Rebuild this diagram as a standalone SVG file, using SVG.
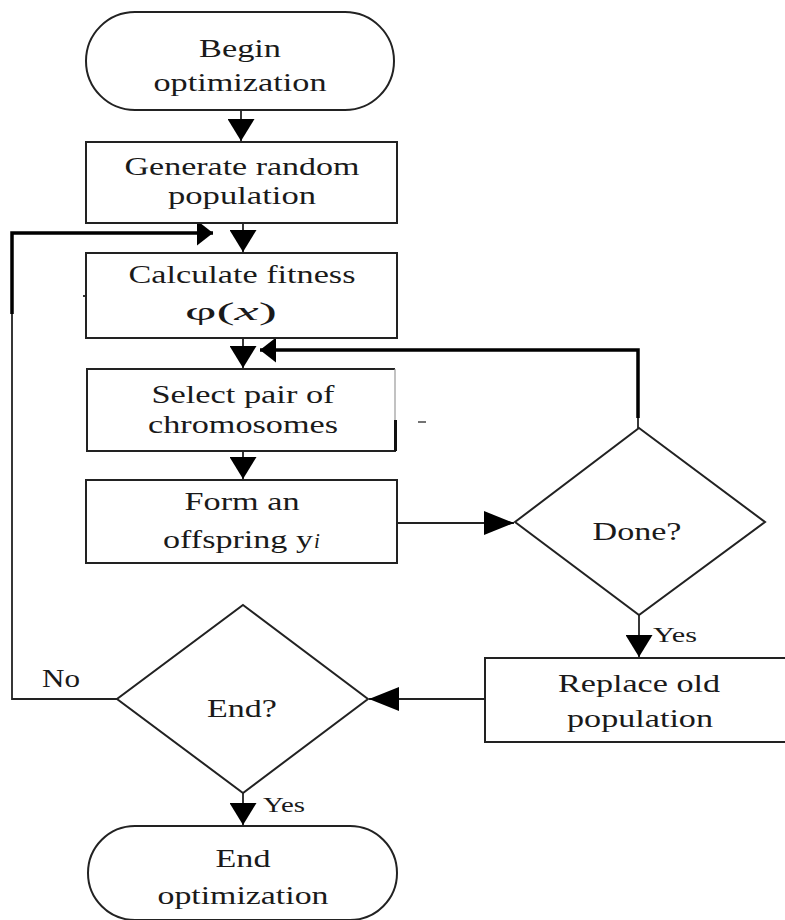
<svg xmlns="http://www.w3.org/2000/svg" width="785" height="920" viewBox="0 0 785 920">
<style>
.box{fill:#fff;stroke:#222;stroke-width:2}
.t{font-size:25px;fill:#1a1a1a;text-anchor:middle}
.s{font-size:21px;fill:#1a1a1a}
.thin{fill:none;stroke:#222;stroke-width:1.8}
.thick{fill:none;stroke:#000;stroke-width:3.5}
</style>
<defs>
<marker id="av" markerUnits="userSpaceOnUse" markerWidth="22" markerHeight="27" refX="22" refY="13.5" orient="auto"><path d="M0,0 L22,13.5 L0,27 z" fill="#000"/></marker>
<marker id="ah" markerUnits="userSpaceOnUse" markerWidth="30" markerHeight="24" refX="30" refY="12" orient="auto"><path d="M0,0 L30,12 L0,24 z" fill="#000"/></marker>
<marker id="ak" markerUnits="userSpaceOnUse" markerWidth="16" markerHeight="25" refX="16" refY="12.5" orient="auto"><path d="M0,0 L16,12.5 L0,25 z" fill="#000"/></marker>
</defs>
<rect width="785" height="920" fill="#fff"/>
<g font-family="'Liberation Serif', 'DejaVu Serif', serif">
<g id="connectors">
<path class="thin" d="M241,110 V141" marker-end="url(#av)"/>
<path class="thin" d="M243,223 V252" marker-end="url(#av)"/>
<path class="thin" d="M243,338 V368" marker-end="url(#av)"/>
<path class="thin" d="M243,451 V479" marker-end="url(#av)"/>
<path class="thin" d="M397,523 H514" marker-end="url(#ah)"/>
<path class="thin" d="M639,615 V657" marker-end="url(#av)"/>
<path class="thin" d="M485,699 H369" marker-end="url(#ah)"/>
<path class="thin" d="M243,793 V825" marker-end="url(#av)"/>
<path class="thin" d="M117,699 H12 V313"/>
<path class="thick" d="M12,314 V233 H213" marker-end="url(#ak)"/>
<path class="thin" d="M638,428 V416"/>
<path class="thick" d="M638,418 V350 H260" marker-end="url(#ak)"/>
<path class="thin" d="M83,296 H89"/>
<path d="M418,422 H426" stroke="#444" stroke-width="1.5"/>
<text class="s" x="653" y="642" textLength="44" lengthAdjust="spacingAndGlyphs">Yes</text>
<text class="t" x="61" y="687" textLength="38" lengthAdjust="spacingAndGlyphs">No</text>
<text class="s" x="263" y="812" textLength="42" lengthAdjust="spacingAndGlyphs">Yes</text>
</g>
<g id="begin">
<rect class="box" x="86" y="12" width="308" height="98" rx="49"/>
<text class="t" x="240" y="57" textLength="82" lengthAdjust="spacingAndGlyphs">Begin</text>
<text class="t" x="240" y="91" textLength="173" lengthAdjust="spacingAndGlyphs">optimization</text>
</g>
<g id="generate">
<rect class="box" x="86" y="142" width="311" height="81"/>
<text class="t" x="242" y="175" textLength="235" lengthAdjust="spacingAndGlyphs">Generate random</text>
<text class="t" x="242" y="204" textLength="148" lengthAdjust="spacingAndGlyphs">population</text>
</g>
<g id="calculate">
<rect class="box" x="86" y="253" width="311" height="85"/>
<text class="t" x="242" y="283" textLength="227" lengthAdjust="spacingAndGlyphs">Calculate fitness</text>
<text class="t" x="231" y="320" textLength="92" lengthAdjust="spacingAndGlyphs">φ(<tspan font-style="italic">x</tspan>)</text>
</g>
<g id="select">
<path d="M395,369 H87 V451 H395 V420" fill="#fff" stroke="#222" stroke-width="2"/>
<path d="M395,369 V420" stroke="#999" stroke-width="1.2"/>
<path d="M395.5,420 V451" stroke="#111" stroke-width="3"/>
<text class="t" x="243" y="403" textLength="183" lengthAdjust="spacingAndGlyphs">Select pair of</text>
<text class="t" x="243" y="433" textLength="190" lengthAdjust="spacingAndGlyphs">chromosomes</text>
</g>
<g id="form">
<rect class="box" x="86" y="480" width="311" height="83"/>
<text class="t" x="242" y="510" textLength="115" lengthAdjust="spacingAndGlyphs">Form an</text>
<text class="t" x="163" y="548" textLength="150" lengthAdjust="spacingAndGlyphs" style="text-anchor:start">offspring y</text>
<text class="s" x="314" y="548" font-style="italic">i</text>
</g>
<g id="done">
<polygon class="box" points="639,428 765,522 639,615 515,522"/>
<text class="t" x="637" y="540" textLength="89" lengthAdjust="spacingAndGlyphs">Done?</text>
</g>
<g id="replace">
<rect class="box" x="485" y="658" width="310" height="84"/>
<text class="t" x="639" y="692" textLength="162" lengthAdjust="spacingAndGlyphs">Replace old</text>
<text class="t" x="640" y="727" textLength="146" lengthAdjust="spacingAndGlyphs">population</text>
</g>
<g id="endq">
<polygon class="box" points="243,605 368,699 243,793 117,699"/>
<text class="t" x="242" y="717" textLength="70" lengthAdjust="spacingAndGlyphs">End?</text>
</g>
<g id="end">
<rect class="box" x="88" y="826" width="309" height="94" rx="47"/>
<text class="t" x="243" y="867" textLength="55" lengthAdjust="spacingAndGlyphs">End</text>
<text class="t" x="243" y="904" textLength="171" lengthAdjust="spacingAndGlyphs">optimization</text>
</g>
</g>
</svg>
